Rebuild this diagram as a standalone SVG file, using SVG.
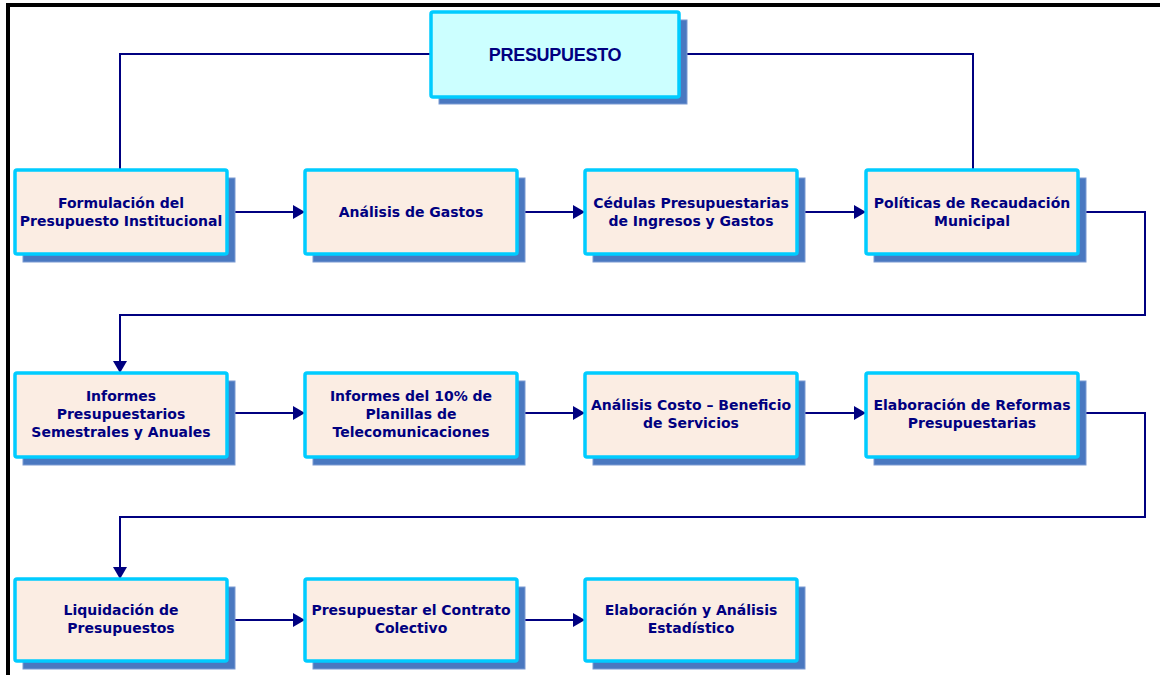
<svg xmlns="http://www.w3.org/2000/svg" width="1160" height="675" viewBox="0 0 1160 675">
<defs>
<marker id="ah" markerWidth="12" markerHeight="14" refX="12" refY="7" orient="auto" markerUnits="userSpaceOnUse">
<path d="M0,0 L12,7 L0,14 z" fill="#000080"/>
</marker>
<style>
.sh{fill:#4A78C0;stroke:#7A9AD2;stroke-width:1}
.bx{fill:#FBEDE3;stroke:#00CCFF;stroke-width:3.5}
.top{fill:#CCFFFF;stroke:#00CCFF;stroke-width:3.5}
.t{font-family:"DejaVu Sans",Verdana,sans-serif;font-weight:bold;font-size:14px;fill:#000080;text-anchor:middle}
.tt{font-family:"Liberation Sans",Arial,sans-serif;font-weight:bold;font-size:18px;fill:#000080;text-anchor:middle;letter-spacing:-0.3px}
.c{fill:none;stroke:#000080;stroke-width:2}
</style>
</defs>
<rect width="1160" height="675" fill="#fff"/>
<path d="M8,675 V5 H1160" fill="none" stroke="#000" stroke-width="4"/>
<g id="connectors">
<path class="c" d="M431,54 H120 V170"/>
<path class="c" d="M679,54 H973 V170"/>
<path class="c" d="M227,212 H305" marker-end="url(#ah)"/>
<path class="c" d="M517,212 H585" marker-end="url(#ah)"/>
<path class="c" d="M797,212 H866" marker-end="url(#ah)"/>
<path class="c" d="M1079,212 H1145 V315 H120 V373" marker-end="url(#ah)"/>
<path class="c" d="M227,413 H305" marker-end="url(#ah)"/>
<path class="c" d="M517,413 H585" marker-end="url(#ah)"/>
<path class="c" d="M797,413 H866" marker-end="url(#ah)"/>
<path class="c" d="M1079,413 H1145 V517 H120 V579" marker-end="url(#ah)"/>
<path class="c" d="M227,620 H305" marker-end="url(#ah)"/>
<path class="c" d="M517,620 H585" marker-end="url(#ah)"/>
</g>
<g id="presupuesto">
<rect class="sh" x="439" y="20" width="248" height="84"/>
<rect class="top" x="431" y="12" width="248" height="85" rx="2"/>
<text class="tt" x="555" y="61">PRESUPUESTO</text>
</g>
<g id="n1">
<rect class="sh" x="23" y="178" width="212" height="84"/>
<rect class="bx" x="15" y="170" width="212" height="84" rx="2"/>
<text class="t" x="121" y="208">Formulación del</text>
<text class="t" x="121" y="226">Presupuesto Institucional</text>
</g>
<g id="n2">
<rect class="sh" x="313" y="178" width="212" height="84"/>
<rect class="bx" x="305" y="170" width="212" height="84" rx="2"/>
<text class="t" x="411" y="217">Análisis de Gastos</text>
</g>
<g id="n3">
<rect class="sh" x="593" y="178" width="212" height="84"/>
<rect class="bx" x="585" y="170" width="212" height="84" rx="2"/>
<text class="t" x="691" y="208">Cédulas Presupuestarias</text>
<text class="t" x="691" y="226">de Ingresos y Gastos</text>
</g>
<g id="n4">
<rect class="sh" x="874" y="178" width="212" height="84"/>
<rect class="bx" x="866" y="170" width="212" height="84" rx="2"/>
<text class="t" x="972" y="208">Políticas de Recaudación</text>
<text class="t" x="972" y="226">Municipal</text>
</g>
<g id="n5">
<rect class="sh" x="23" y="381" width="212" height="84"/>
<rect class="bx" x="15" y="373" width="212" height="84" rx="2"/>
<text class="t" x="121" y="401">Informes</text>
<text class="t" x="121" y="419">Presupuestarios</text>
<text class="t" x="121" y="437">Semestrales y Anuales</text>
</g>
<g id="n6">
<rect class="sh" x="313" y="381" width="212" height="84"/>
<rect class="bx" x="305" y="373" width="212" height="84" rx="2"/>
<text class="t" x="411" y="401">Informes del 10% de</text>
<text class="t" x="411" y="419">Planillas de</text>
<text class="t" x="411" y="437">Telecomunicaciones</text>
</g>
<g id="n7">
<rect class="sh" x="593" y="381" width="212" height="84"/>
<rect class="bx" x="585" y="373" width="212" height="84" rx="2"/>
<text class="t" x="691" y="410">Análisis Costo – Beneficio</text>
<text class="t" x="691" y="428">de Servicios</text>
</g>
<g id="n8">
<rect class="sh" x="874" y="381" width="212" height="84"/>
<rect class="bx" x="866" y="373" width="212" height="84" rx="2"/>
<text class="t" x="972" y="410">Elaboración de Reformas</text>
<text class="t" x="972" y="428">Presupuestarias</text>
</g>
<g id="n9">
<rect class="sh" x="23" y="587" width="212" height="82"/>
<rect class="bx" x="15" y="579" width="212" height="82" rx="2"/>
<text class="t" x="121" y="615">Liquidación de</text>
<text class="t" x="121" y="633">Presupuestos</text>
</g>
<g id="n10">
<rect class="sh" x="313" y="587" width="212" height="82"/>
<rect class="bx" x="305" y="579" width="212" height="82" rx="2"/>
<text class="t" x="411" y="615">Presupuestar el Contrato</text>
<text class="t" x="411" y="633">Colectivo</text>
</g>
<g id="n11">
<rect class="sh" x="593" y="587" width="212" height="82"/>
<rect class="bx" x="585" y="579" width="212" height="82" rx="2"/>
<text class="t" x="691" y="615">Elaboración y Análisis</text>
<text class="t" x="691" y="633">Estadístico</text>
</g>
</svg>
